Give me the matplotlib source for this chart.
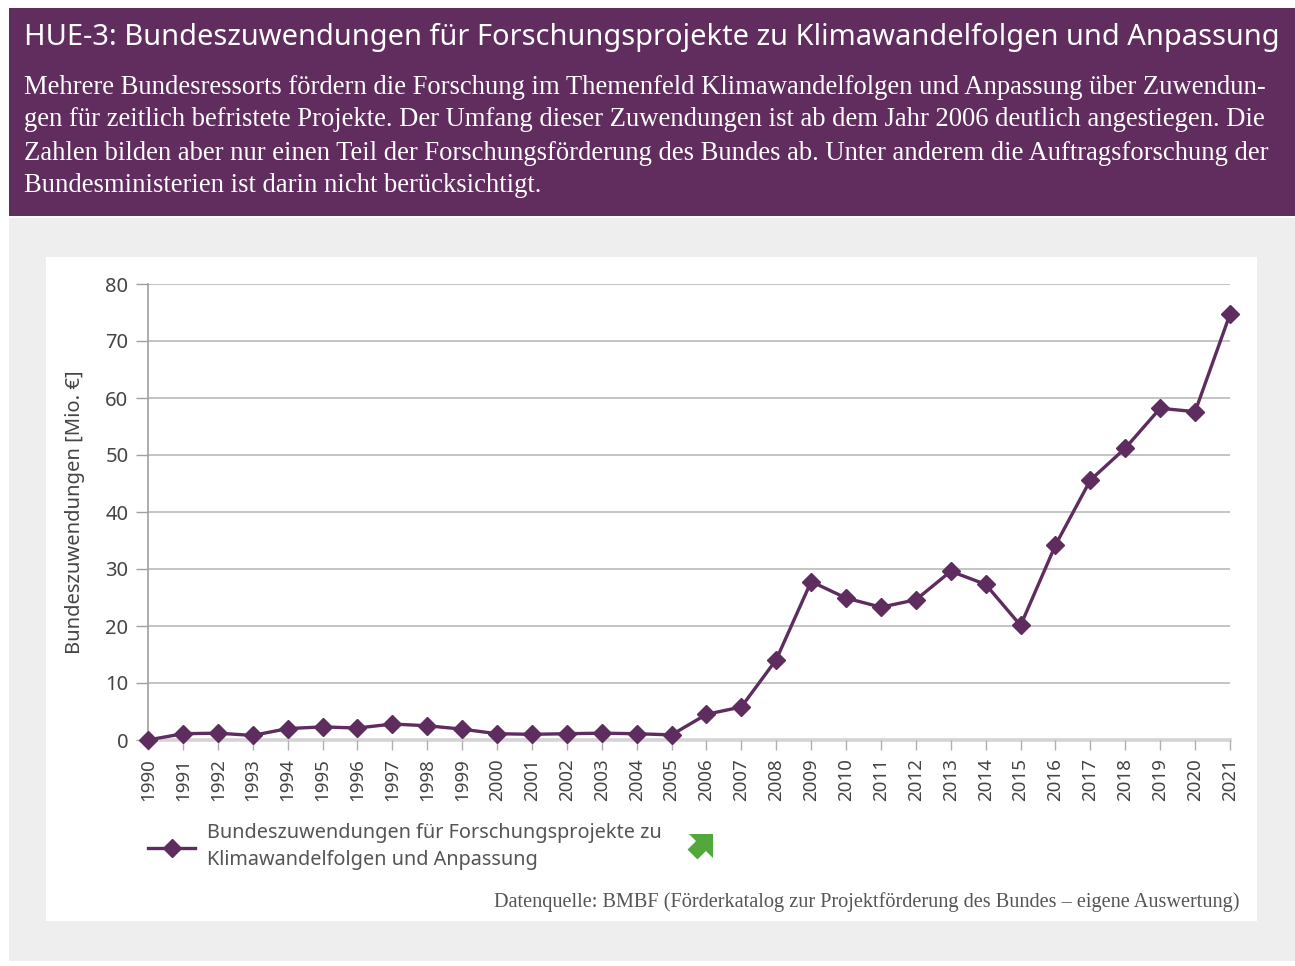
import numpy as np
import matplotlib
matplotlib.use("Agg")
import matplotlib.pyplot as plt
from matplotlib.patches import Rectangle, Polygon
from matplotlib.lines import Line2D

# ---------------- data ----------------
years = list(range(1990, 2022))
values = [0.0, 1.1, 1.2, 0.8, 2.0, 2.3, 2.1, 2.8, 2.5, 1.9,
          1.1, 1.0, 1.1, 1.2, 1.1, 0.9, 4.5, 5.8, 14.1, 27.8,
          24.9, 23.3, 24.6, 29.6, 27.3, 20.1, 34.2, 45.6, 51.2, 58.2,
          57.6, 74.7]
y_ticks = [0, 10, 20, 30, 40, 50, 60, 70, 80]

title = "HUE-3: Bundeszuwendungen für Forschungsprojekte zu Klimawandelfolgen und Anpassung"
body_lines = [
    "Mehrere Bundesressorts fördern die Forschung im Themenfeld Klimawandelfolgen und Anpassung über Zuwendun-",
    "gen für zeitlich befristete Projekte. Der Umfang dieser Zuwendungen ist ab dem Jahr 2006 deutlich angestiegen. Die",
    "Zahlen bilden aber nur einen Teil der Forschungsförderung des Bundes ab. Unter anderem die Auftragsforschung der",
    "Bundesministerien ist darin nicht berücksichtigt.",
]
y_label = "Bundeszuwendungen [Mio. €]"
legend_label = ["Bundeszuwendungen für Forschungsprojekte zu", "Klimawandelfolgen und Anpassung"]
source = "Datenquelle: BMBF (Förderkatalog zur Projektförderung des Bundes – eigene Auswertung)"

# ---------------- styles ----------------
W, H = 1295, 966
PURPLE = "#612d5f"
LINE = "#5e2c5f"
GRAYBG = "#eeeeee"
TXT = "#555555"
SANS = ["Noto Sans", "DejaVu Sans"]
SERIF = ["Liberation Serif", "DejaVu Serif"]

fig = plt.figure(figsize=(W / 100, H / 100), dpi=100)
fig.patch.set_facecolor("white")


def fx(px):
    return px / W


def fy(py):
    return 1 - py / H


def frect(x0, y0, x1, y1, color, z=0):
    fig.patches.append(Rectangle((fx(x0), fy(y1)), fx(x1) - fx(x0), fy(y0) - fy(y1),
                                 transform=fig.transFigure, facecolor=color,
                                 edgecolor="none", zorder=z))


frect(9, 8, 1295, 216, PURPLE)
frect(9, 218, 1295, 961, GRAYBG)
frect(46, 257, 1257, 921, "white", z=1)

renderer = fig.canvas.get_renderer()


def fit_text(x, y, s, width_px, fam, size0, **kw):
    t = fig.text(fx(x), fy(y), s, family=fam, fontsize=size0, **kw)
    w = t.get_window_extent(renderer=renderer).width
    t.set_fontsize(size0 * width_px / w)
    return t


fit_text(24, 37, title, 1256, SANS, 20, color="white", va="center", ha="left")
body_y = [88, 120, 153, 186]
bt = []
for ln, yy in zip(body_lines, body_y):
    bt.append(fig.text(fx(24), fy(yy), ln, family=SERIF, fontsize=17, color="white",
                       va="center", ha="left"))
w3 = bt[2].get_window_extent(renderer=renderer).width
scale = (1272 - 24) / w3
for t in bt:
    t.set_fontsize(17 * scale)

# ---------------- axes ----------------
ax = fig.add_axes([fx(148), fy(740), fx(1230) - fx(148), fy(284) - fy(740)], zorder=3)
ax.set_facecolor("none")
ax.set_xlim(1990, 2021)
ax.set_ylim(0, 80)
ax.set_yticks(y_ticks)
ax.set_xticks(years)
ax.set_xticklabels([str(y) for y in years], rotation=90)
for v in y_ticks[1:]:
    ax.axhline(v, color="#c4c4c4", lw=1.4, zorder=1)
ax.axhline(0, color="#d4d4d4", lw=2.6, zorder=1, clip_on=False)
for s in ["top", "right", "bottom"]:
    ax.spines[s].set_visible(False)
ax.spines["left"].set_color("#a0a0a0")
ax.spines["left"].set_linewidth(1.2)
ax.tick_params(axis="y", length=9, width=1.0, color="#a0a0a0", labelsize=14.5,
               labelcolor="#444444", pad=5)
ax.tick_params(axis="x", length=7, width=1.0, color="#b0b0b0", labelsize=13.5,
               labelcolor="#444444", pad=6)
for lab in ax.get_xticklabels() + ax.get_yticklabels():
    lab.set_family(SANS)

ax.plot(years, values, color=LINE, lw=2.4, marker="D", ms=9, mfc=LINE, mec=LINE,
        zorder=5, clip_on=False)

fig.text(fx(75), fy(512), y_label, family=SANS, fontsize=14.5, color="#444444",
         rotation=90, ha="center", va="center", zorder=4)

# ---------------- legend ----------------
fig.lines.append(Line2D([fx(148), fx(195)], [fy(848), fy(848)], transform=fig.transFigure,
                        color=LINE, lw=2.4, marker=None, zorder=4))
fig.lines.append(Line2D([fx(171.5)], [fy(848)], transform=fig.transFigure,
                        color=LINE, marker="D", ms=9, zorder=4))
fig.text(fx(207), fy(833), legend_label[0], family=SANS, fontsize=14.3, color=TXT,
         ha="left", va="center", zorder=4)
fig.text(fx(207), fy(860), legend_label[1], family=SANS, fontsize=14.3, color=TXT,
         ha="left", va="center", zorder=4)

# green trend arrow icon (local frame: u along arrow, v across; tip at origin)
local = np.array([(0, 0), (-17, 17), (-17, 7), (-29, 7), (-29, -7), (-17, -7), (-17, -17)])
u = np.array([1, -1]) / np.sqrt(2)
vv = np.array([1, 1]) / np.sqrt(2)
tip = np.array([713, 834])
img = [tip + a * u + b * vv for a, b in local]
poly = [(fx(p[0]), fy(p[1])) for p in img]
fig.patches.append(Polygon(poly, closed=True, transform=fig.transFigure,
                           facecolor="#52a83a", edgecolor="none", zorder=4))

# ---------------- source ----------------
fig.text(fx(1239), fy(902), source, family=SERIF, fontsize=14.6, color=TXT,
         ha="right", va="center", zorder=4)

fig.savefig("out.png", dpi=100)
